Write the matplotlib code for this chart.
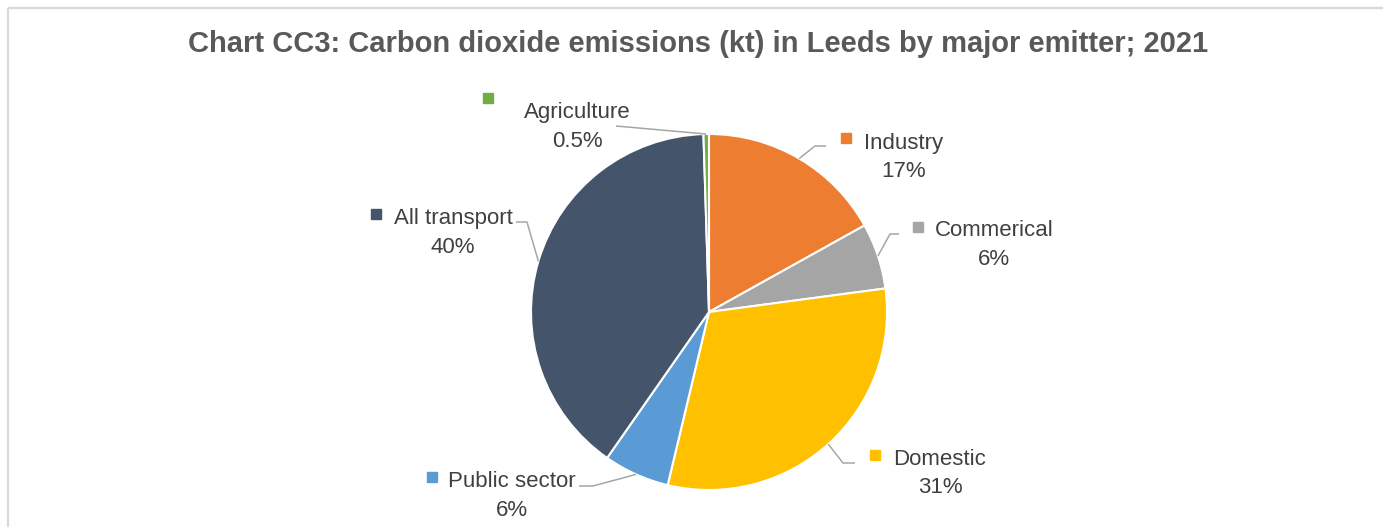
import matplotlib
matplotlib.use("Agg")
import matplotlib.pyplot as plt
from matplotlib.patches import Rectangle
import numpy as np

# data
labels = ["Industry", "Commerical", "Domestic", "Public sector", "All transport", "Agriculture"]
shares = [17, 6, 31, 6, 40, 0.5]
colors = ["#ED7D31", "#A5A5A5", "#FFC000", "#5B9BD5", "#44546A", "#70AD47"]
title = "Chart CC3: Carbon dioxide emissions (kt) in Leeds by major emitter; 2021"

W, H = 1383, 527
fig = plt.figure(figsize=(W / 100, H / 100), dpi=100)

# pie centre / radius in pixels (from top left)
cx, cy, r = 709, 312, 178
ax = fig.add_axes([(cx - r) / W, (H - cy - r) / H, 2 * r / W, 2 * r / H])
wedges, _ = ax.pie(shares, colors=colors, startangle=90, counterclock=False,
                   wedgeprops=dict(edgecolor="white", linewidth=1.5))
for w in wedges:
    w.set_clip_on(False)
ax.set_xlim(-1, 1)
ax.set_ylim(-1, 1)

# overlay in pixel coords for text, leaders, frame
ov = fig.add_axes([0, 0, 1, 1])
ov.set_xlim(0, W)
ov.set_ylim(H, 0)
ov.axis("off")

ov.add_patch(Rectangle((8, 8), W + 20, H + 20, fill=False, edgecolor="#D9D9D9", lw=1.6))

ov.text(698, 52, title, ha="center", va="baseline", fontsize=21, fontweight="bold",
        color="#595959", family=["Liberation Sans", "DejaVu Sans"])

# label layout: text centre x, name baseline, pct baseline, square, leader elbow points
layout = {
    "Industry": (904, 149, 177, (846, 138), [(815, 146), (826, 146)]),
    "Commerical": (994, 236, 265, (918, 227), [(890, 234), (899, 234)]),
    "Domestic": (940, 465, 493, (875, 455), [(843, 463), (855, 463)]),
    "Public sector": (512, 487, 516, (432, 477), [(593, 486), (579, 486)]),
    "All transport": (453, 224, 253, (376, 214), [(527, 222), (516, 222)]),
    "Agriculture": (577, 118, 147, (488, 98), [(616, 126)]),
}

lab_font = ["Liberation Sans", "DejaVu Sans"]
to_ov = ov.transData.inverted()
for w, name, val, col in zip(wedges, labels, shares, colors):
    tx, yb1, yb2, sq, pts = layout[name]
    ov.text(tx, yb1, name, ha="center", va="baseline", fontsize=16, color="#404040", family=lab_font)
    ov.text(tx, yb2, f"{val:g}%", ha="center", va="baseline", fontsize=16, color="#404040", family=lab_font)
    ov.plot(sq[0], sq[1], marker="s", ms=7, color=col, linestyle="none")
    mid = np.deg2rad((w.theta1 + w.theta2) / 2)
    edge = to_ov.transform(ax.transData.transform((np.cos(mid), np.sin(mid))))
    xs = [edge[0]] + [p[0] for p in pts]
    ys = [edge[1]] + [p[1] for p in pts]
    ov.plot(xs, ys, color="#A6A6A6", lw=1.1, solid_capstyle="butt")

fig.savefig("out.png", dpi=100)
